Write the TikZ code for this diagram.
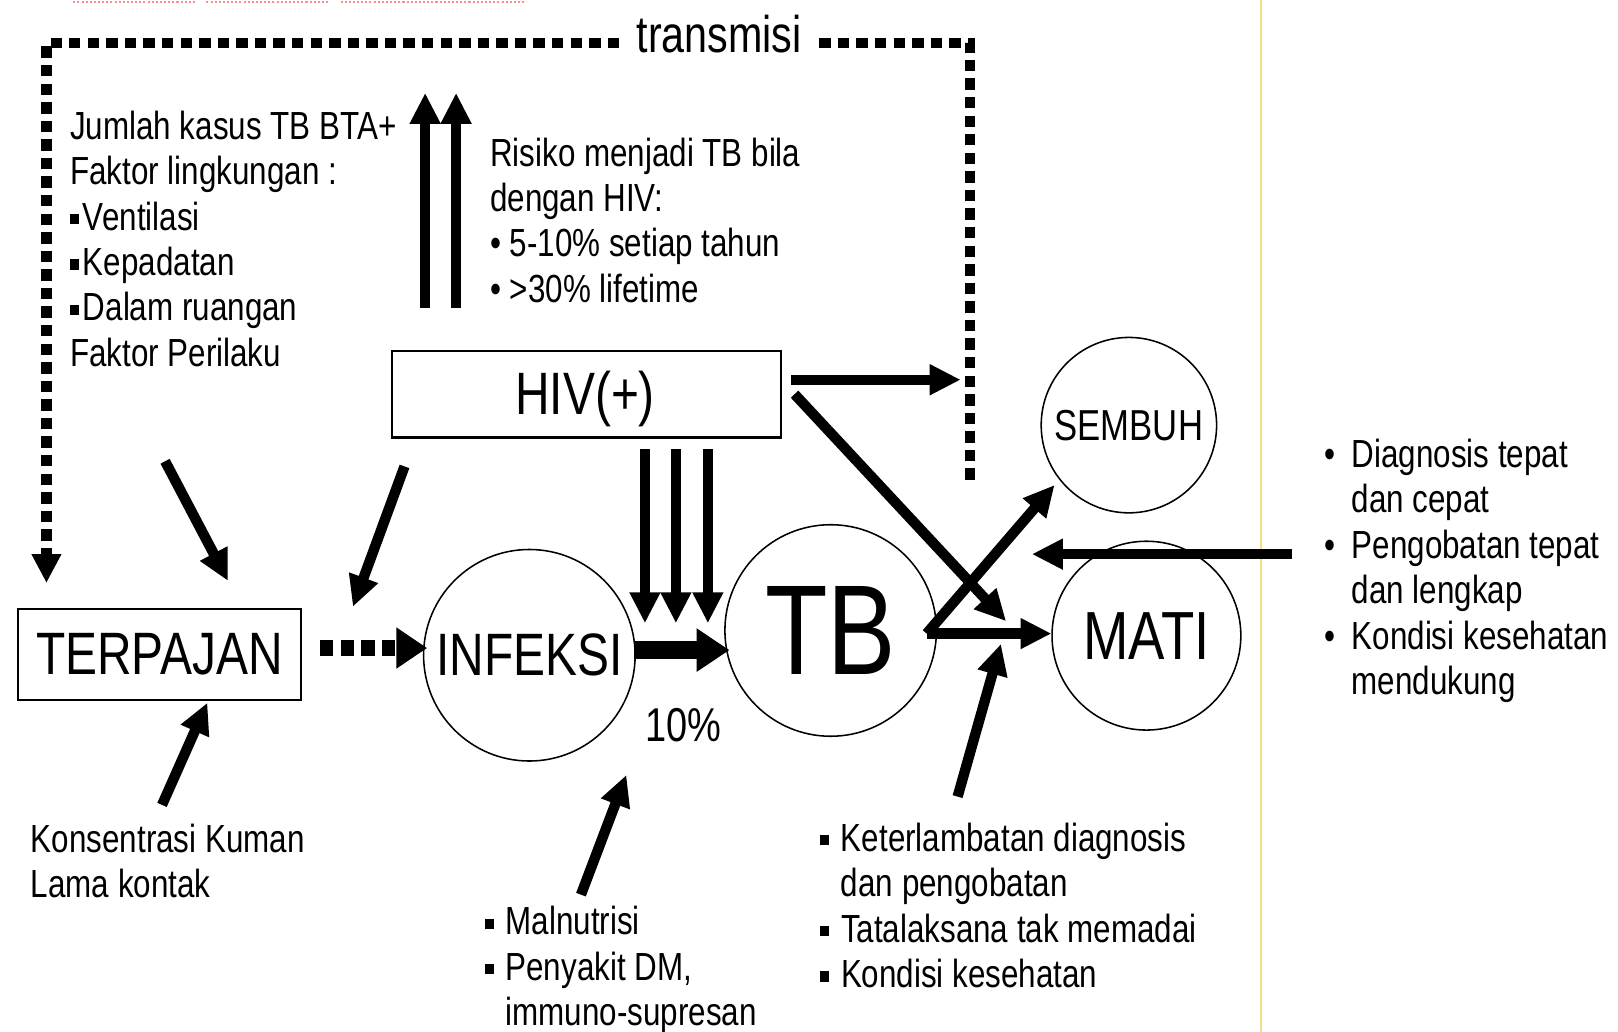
\documentclass[tikz,border=0pt]{standalone}
\usepackage{fontspec}
\setmainfont{Liberation Sans}[FakeStretch=0.8]
\usetikzlibrary{arrows.meta}

% font sizes (1pt = one unit of the drawing grid)
\newcommand\fsText{\fontsize{38pt}{44pt}\selectfont}
\newcommand\fsLabel{\fontsize{58pt}{64pt}\selectfont}
\newcommand\fsTB{\fontsize{124pt}{130pt}\selectfont}
\newcommand\fsMati{\fontsize{66pt}{72pt}\selectfont}
\newcommand\fsSembuh{\fontsize{42pt}{48pt}\selectfont}
\newcommand\fsPct{\fontsize{46pt}{52pt}\selectfont}
\newcommand\fsTrans{\fontsize{50pt}{56pt}\selectfont}
% small square bullet and first-line strut
\newcommand\sqbul{\rule[0.15em]{0.22em}{0.26em}}
\newcommand\topstrut{\rule{0pt}{30pt}}

\begin{document}
\begin{tikzpicture}[x=1pt,y=-1pt,
  every node/.style={inner sep=0pt, outer sep=0pt},
  txt/.style={anchor=north west, align=left, font=\fsText},
  box/.style={draw, line width=2pt},
  circ/.style={draw, circle, line width=1.5pt},
  fat/.style={line width=10pt, -{Triangle[length=30pt,width=28pt]}},
  fatter/.style={line width=17pt, -{Triangle[length=32pt,width=40pt]}},
  loopline/.style={line width=10pt, dash pattern=on 11pt off 7pt},
  dotarrow/.style={line width=15pt, dash pattern=on 13pt off 7pt, -{Triangle[length=30pt,width=38pt]}},
  squiggle/.style={draw=red!45, line width=1.5pt, dash pattern=on 2pt off 2pt}
]
\useasboundingbox (0,0) rectangle (1568,1000);

% separator line on the right
\draw[color={rgb,255:red,250;green,220;blue,130}, line width=2pt] (1222,0) -- (1222,1000);

% spell-check underlines at the top edge
\draw[squiggle] (71,2) -- (190,2);
\draw[squiggle] (200,2) -- (318,2);
\draw[squiggle] (330,2) -- (510,2);

% main nodes
\node[box, minimum width=275pt, minimum height=88pt, font=\fsLabel] (terpajan) at (154.5,634) {TERPAJAN};
\node[box, minimum width=377pt, minimum height=84pt] (hiv) at (568.5,382) {};
\node[font=\fsLabel] (hivtext) at (567,387) {HIV(+)};
\node[circ, minimum size=205pt, font=\fsLabel] (infeksi) at (513,635) {INFEKSI};
\node[circ, minimum size=205pt, font=\fsTB] (tb) at (805,611) {TB};
\node[circ, minimum size=170pt, font=\fsSembuh] (sembuh) at (1094,412) {SEMBUH};
\node[circ, minimum size=183pt, font=\fsMati] (mati) at (1111,616) {MATI};
\node[font=\fsPct] (pct) at (662,703) {10\%};

% transmission loop
\node[font=\fsTrans] (trans) at (697,33) {transmisi};
\coordinate (loopR) at (940,465);
\coordinate (loopRT) at (940,42);
\coordinate (loopRL) at (790,42);
\coordinate (loopLR) at (600,42);
\coordinate (loopLT) at (45,42);
\coordinate (loopL) at (45,565);
\draw[loopline] (loopR) -- (loopRT) -- (loopRL);
\draw[loopline, -{Triangle[length=28pt,width=27pt]}] (loopLR) -- (loopLT) -- (loopL);

% text blocks
\node[txt] (env) at (68,105) {\topstrut Jumlah kasus TB BTA+\\
  Faktor lingkungan :\\
  \sqbul\hspace{4pt}Ventilasi\\
  \sqbul\hspace{4pt}Kepadatan\\
  \sqbul\hspace{4pt}Dalam ruangan\\
  Faktor Perilaku};
\node[txt] (risk) at (475,131) {\topstrut Risiko menjadi TB bila\\
  dengan HIV:\\
  \textbullet\ 5-10\% setiap tahun\\
  \textbullet\ >30\% lifetime};
\node[txt] (kuman) at (30,796) {\topstrut Konsentrasi Kuman\\Lama kontak};
\node[txt] (nutri) at (470,876) {\topstrut\makebox[20pt][l]{\sqbul}Malnutrisi\\
  \makebox[20pt][l]{\sqbul}Penyakit DM,\\
  \hspace*{20pt}immuno-supresan};
\node[txt] (delay) at (795,795) {\topstrut\makebox[20pt][l]{\sqbul}Keterlambatan diagnosis\\
  \hspace*{20pt}dan pengobatan\\
  \makebox[20pt][l]{\sqbul}Tatalaksana tak memadai\\
  \makebox[20pt][l]{\sqbul}Kondisi kesehatan};
\node[txt] (care) at (1284,423) {\topstrut\makebox[26pt][l]{\textbullet}Diagnosis tepat\\
  \hspace*{26pt}dan cepat\\
  \makebox[26pt][l]{\textbullet}Pengobatan tepat\\
  \hspace*{26pt}dan lengkap\\
  \makebox[26pt][l]{\textbullet}Kondisi kesehatan\\
  \hspace*{26pt}mendukung};

% arrow end points
\coordinate (upA0) at (412,298);  \coordinate (upA1) at (412,90);
\coordinate (upB0) at (442,298);  \coordinate (upB1) at (442,90);
\coordinate (hivR0) at (767,368); \coordinate (hivR1) at (931,368);
\coordinate (hivD0) at (770,382); \coordinate (hivD1) at (975,602);
\coordinate (dnA0) at (625,435);  \coordinate (dnA1) at (625,604);
\coordinate (dnB0) at (655,435);  \coordinate (dnB1) at (655,604);
\coordinate (dnC0) at (686,435);  \coordinate (dnC1) at (686,604);
\coordinate (envA0) at (160,447); \coordinate (envA1) at (221,563);
\coordinate (hivL0) at (392,452); \coordinate (hivL1) at (342,588);
\coordinate (expo0) at (310,628); \coordinate (expo1) at (414,628);
\coordinate (inf0) at (614,630);  \coordinate (inf1) at (707,630);
\coordinate (fork) at (898,614);
\coordinate (heal) at (1022,470);
\coordinate (die) at (1019,614);
\coordinate (care0) at (1252,537); \coordinate (care1) at (1000,537);
\coordinate (delay0) at (928,772); \coordinate (delay1) at (970,624);
\coordinate (kuman0) at (157,780); \coordinate (kuman1) at (201,681);
\coordinate (nutri0) at (563,867); \coordinate (nutri1) at (607,751);

% arrows
\draw[fat] (upA0) -- (upA1);
\draw[fat] (upB0) -- (upB1);
\draw[fat] (hivR0) -- (hivR1);
\draw[fat] (hivD0) -- (hivD1);
\draw[fat] (dnA0) -- (dnA1);
\draw[fat] (dnB0) -- (dnB1);
\draw[fat] (dnC0) -- (dnC1);
\draw[fat] (envA0) -- (envA1);
\draw[fat] (hivL0) -- (hivL1);
\draw[dotarrow] (expo0) -- (expo1);
\draw[fatter] (inf0) -- (inf1);
\draw[fat] (fork) -- (heal);
\draw[fat] (fork) -- (die);
\draw[fat] (care0) -- (care1);
\draw[fat] (delay0) -- (delay1);
\draw[fat] (kuman0) -- (kuman1);
\draw[fat] (nutri0) -- (nutri1);
\end{tikzpicture}
\end{document}
